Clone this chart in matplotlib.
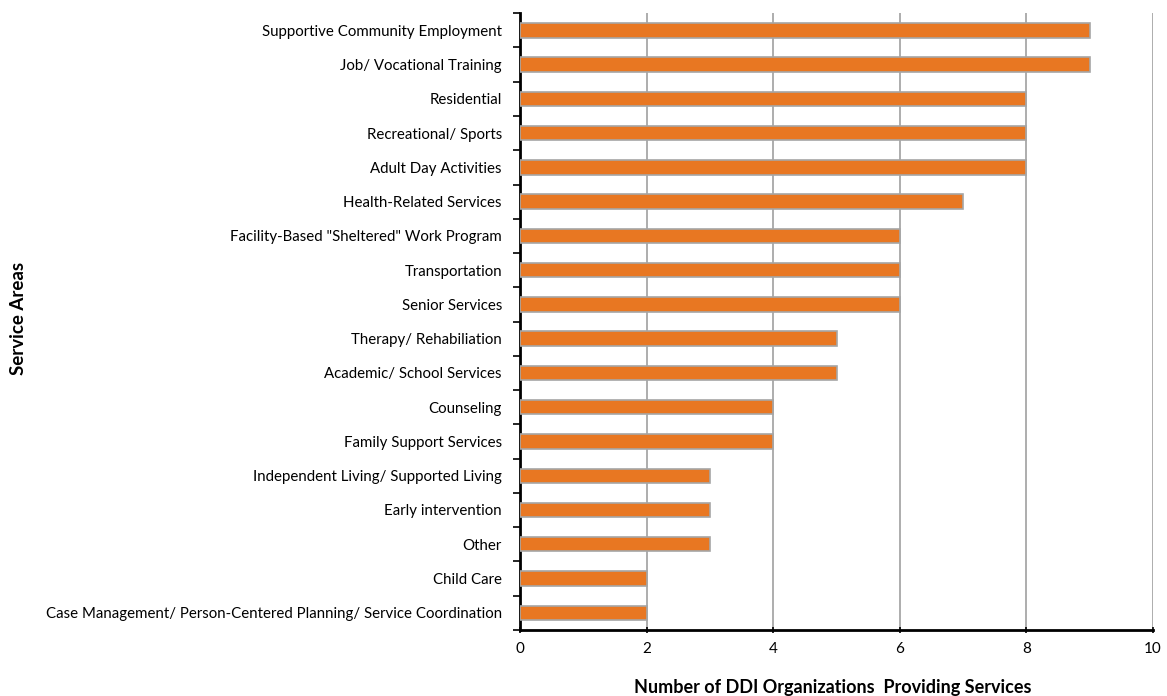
import matplotlib.pyplot as plt
import numpy as np

plt.rcParams['font.family'] = ['Lato', 'DejaVu Sans']

# Service areas, top to bottom as shown in the chart
services = [
    "Supportive Community Employment",
    "Job/ Vocational Training",
    "Residential",
    "Recreational/ Sports",
    "Adult Day Activities",
    "Health-Related Services",
    "Facility-Based \"Sheltered\" Work Program",
    "Transportation",
    "Senior Services",
    "Therapy/ Rehabiliation",
    "Academic/ School Services",
    "Counseling",
    "Family Support Services",
    "Independent Living/ Supported Living",
    "Early intervention",
    "Other",
    "Child Care",
    "Case Management/ Person-Centered Planning/ Service Coordination",
]
counts = [9, 9, 8, 8, 8, 7, 6, 6, 6, 5, 5, 4, 4, 3, 3, 3, 2, 2]
x_ticks = [0, 2, 4, 6, 8, 10]

fig = plt.figure(figsize=(11.67, 6.96), dpi=100)
ax = fig.add_axes([0.4456, 0.095, 0.5424, 0.886])

y = np.arange(len(services))[::-1]
ax.barh(y, counts, height=0.42, color='#E87722', edgecolor='#A6A6A6', linewidth=1.2, zorder=3)

ax.set_xlim(0, 10)
ax.set_ylim(-0.5, len(services) - 0.5)
ax.set_xticks(x_ticks)
ax.xaxis.grid(True, color='#A0A0A0', linewidth=1.2, zorder=0)

ax.set_yticks(y)
ax.set_yticklabels(services, fontsize=10.8)
ax.tick_params(axis='y', length=0, pad=13)
ax.set_yticks(np.arange(-0.5, len(services), 1), minor=True)
ax.tick_params(axis='y', which='minor', length=5, width=1.2, direction='out')
ax.tick_params(axis='x', labelsize=11, length=5, width=1.2, direction='inout', pad=6)

for side in ['top', 'right']:
    ax.spines[side].set_visible(False)
for side in ['left', 'bottom']:
    ax.spines[side].set_linewidth(2)

fig.text(833 / 1167, 1 - 687 / 696, 'Number of DDI Organizations  Providing Services',
         fontsize=13, fontweight='bold', ha='center', va='center')
fig.text(19 / 1167, 1 - 318 / 696, 'Service Areas', fontsize=13.5, fontweight='bold',
         rotation=90, ha='center', va='center')

plt.savefig('out.png', dpi=100)
